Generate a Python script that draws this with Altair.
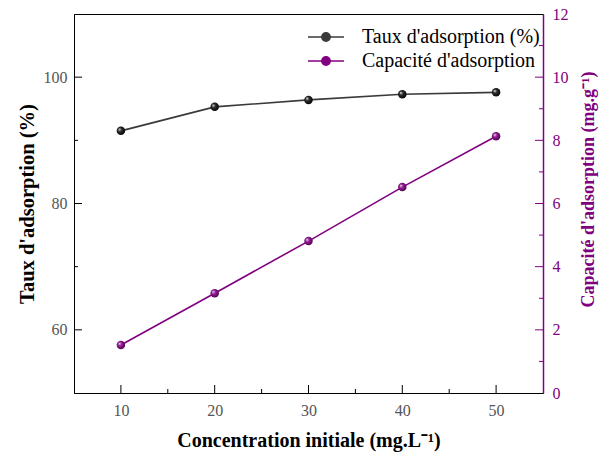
import altair as alt
import pandas as pd

# Measured series
conc = [10, 20, 30, 40, 50]
taux = [91.5, 95.3, 96.4, 97.3, 97.6]
capacite = [1.52, 3.16, 4.81, 6.52, 8.13]

serie_taux = "Taux d'adsorption (%)"
serie_cap = "Capacité d'adsorption"
series = [serie_taux, serie_cap]

# Tick positions
x_major = [10, 20, 30, 40, 50]
x_minor = [15, 25, 35, 45]
left_labels = [60, 80, 100]
left_minor = [70, 90]
right_labels = [0, 2, 4, 6, 8, 10, 12]
right_major = [2, 4, 6, 8, 10]
right_minor = [1, 3, 5, 7, 9, 11]

W, H = 469, 379
FONT = "Liberation Serif"
PURPLE = "#800080"
DARK = "#3a3a3a"
MAJ, MIN = 8, 4

df_taux = pd.DataFrame({"conc": conc, "val": taux, "serie": serie_taux})
df_cap = pd.DataFrame({"conc": conc, "val": capacite, "serie": serie_cap})

xscale = alt.Scale(domain=[5, 55], nice=False, zero=False)
yl = alt.Scale(domain=[50, 110], nice=False, zero=False)
yr = alt.Scale(domain=[0, 12], nice=False, zero=False)

x_axis = alt.Axis(values=x_major, ticks=False, grid=False, labelPadding=9,
                  labelFont=FONT, labelFontSize=16, labelColor="#555555",
                  domainColor="black", title="Concentration initiale (mg.L⁻¹)",
                  titleFont=FONT, titleFontSize=20, titleFontWeight="bold",
                  titleColor="black", titlePadding=12)
yl_axis = alt.Axis(values=left_labels, ticks=False, grid=False, labelPadding=7,
                   labelFont=FONT, labelFontSize=16, labelColor="#555555",
                   domainColor="black", title="Taux d'adsorption (%)",
                   titleFont=FONT, titleFontSize=20.5, titleFontWeight="bold",
                   titleColor="black", titlePadding=6)
yr_axis = alt.Axis(values=right_labels, ticks=False, grid=False, orient="right",
                   labelPadding=9, labelFont=FONT, labelFontSize=16,
                   labelColor=PURPLE, domainColor=PURPLE, domainWidth=1.5,
                   title="Capacité d'adsorption (mg.g⁻¹)",
                   titleFont=FONT, titleFontSize=18, titleFontWeight="bold",
                   titleColor=PURPLE, titlePadding=11, titleAngle=270,
                   titleBaseline="top", titleY=175)

X = alt.X("conc:Q", scale=xscale, axis=x_axis)

# Legend symbol: a short line with a dot in the middle
sym = "M-3,0H3M-0.7,0A0.7,0.7,0,1,0,0.7,0A0.7,0.7,0,1,0,-0.7,0Z"
serie_scale = alt.Scale(domain=series, range=[DARK, PURPLE])
legend = alt.Legend(
    title=None, orient="none", legendX=242, legendY=13,
    symbolType=sym, symbolSize=144, symbolStrokeWidth=1.5, symbolOpacity=1,
    labelFont=FONT, labelFontSize=20, labelColor="black",
    labelOffset=26, labelLimit=400, rowPadding=4,
)
stroke_enc = alt.Stroke("serie:N", scale=serie_scale, legend=legend)
fill_enc = alt.Fill("serie:N", scale=serie_scale, legend=legend)


def ball(c_mid, c_dark):
    # glossy sphere: white highlight towards the upper left
    return alt.RadialGradient(
        gradient="radial",
        stops=[alt.GradientStop(color="#ffffff", offset=0),
               alt.GradientStop(color=c_mid, offset=0.35),
               alt.GradientStop(color=c_dark, offset=1)],
        x1=0.32, y1=0.32, r1=0, x2=0.45, y2=0.45, r2=0.6,
    )


# Left scale: adsorption rate
line_t = alt.Chart(df_taux).mark_line(strokeWidth=1.6).encode(
    x=X, y=alt.Y("val:Q", scale=yl, axis=yl_axis), stroke=stroke_enc)
pts_t = alt.Chart(df_taux).mark_point(
    filled=True, shape="circle", size=72, opacity=1,
    fill=ball("#303030", "#000000"), strokeWidth=0
).encode(x=X, y=alt.Y("val:Q", scale=yl, axis=yl_axis))

lt_major = alt.Chart(pd.DataFrame({"v": left_labels})).mark_rule(color="black").encode(
    y=alt.Y("v:Q", scale=yl, axis=yl_axis), x=alt.value(0), x2=alt.value(MAJ))
lt_minor = alt.Chart(pd.DataFrame({"v": left_minor})).mark_rule(color="black").encode(
    y=alt.Y("v:Q", scale=yl, axis=yl_axis), x=alt.value(0), x2=alt.value(MIN))
xt_major = alt.Chart(pd.DataFrame({"conc": x_major})).mark_rule(color="black").encode(
    x=X, y=alt.value(H), y2=alt.value(H - MAJ))
xt_minor = alt.Chart(pd.DataFrame({"conc": x_minor})).mark_rule(color="black").encode(
    x=X, y=alt.value(H), y2=alt.value(H - MIN))

# Invisible marks that carry the combined stroke/fill legend
legend_keys = alt.Chart(pd.DataFrame({"serie": series})).mark_point(
    filled=True, opacity=0
).encode(x=alt.value(0), y=alt.value(0), stroke=stroke_enc, fill=fill_enc)

left = alt.layer(lt_major, lt_minor, xt_major, xt_minor, line_t, pts_t, legend_keys)

# Right scale: adsorption capacity
line_c = alt.Chart(df_cap).mark_line(strokeWidth=1.6).encode(
    x=X, y=alt.Y("val:Q", scale=yr, axis=yr_axis), stroke=stroke_enc)
pts_c = alt.Chart(df_cap).mark_point(
    filled=True, shape="circle", size=72, opacity=1,
    fill=ball("#9a209a", "#4a004a"), strokeWidth=0
).encode(x=X, y=alt.Y("val:Q", scale=yr, axis=yr_axis))

rt_major = alt.Chart(pd.DataFrame({"v": right_major})).mark_rule(color=PURPLE).encode(
    y=alt.Y("v:Q", scale=yr, axis=yr_axis), x=alt.value(W), x2=alt.value(W - MAJ))
rt_minor = alt.Chart(pd.DataFrame({"v": right_minor})).mark_rule(color=PURPLE).encode(
    y=alt.Y("v:Q", scale=yr, axis=yr_axis), x=alt.value(W), x2=alt.value(W - MIN))

right = alt.layer(rt_major, rt_minor, line_c, pts_c)

chart = (
    alt.layer(left, right)
    .resolve_scale(y="independent")
    .properties(
        width=W, height=H,
        autosize=alt.AutoSizeParams(type="none"),
        padding={"left": 74, "top": 14, "right": 60, "bottom": 59},
        background="white",
    )
    .configure_view(stroke="black", strokeWidth=1)
)

chart.save("out.html", embed_options={"renderer": "svg", "actions": False})
